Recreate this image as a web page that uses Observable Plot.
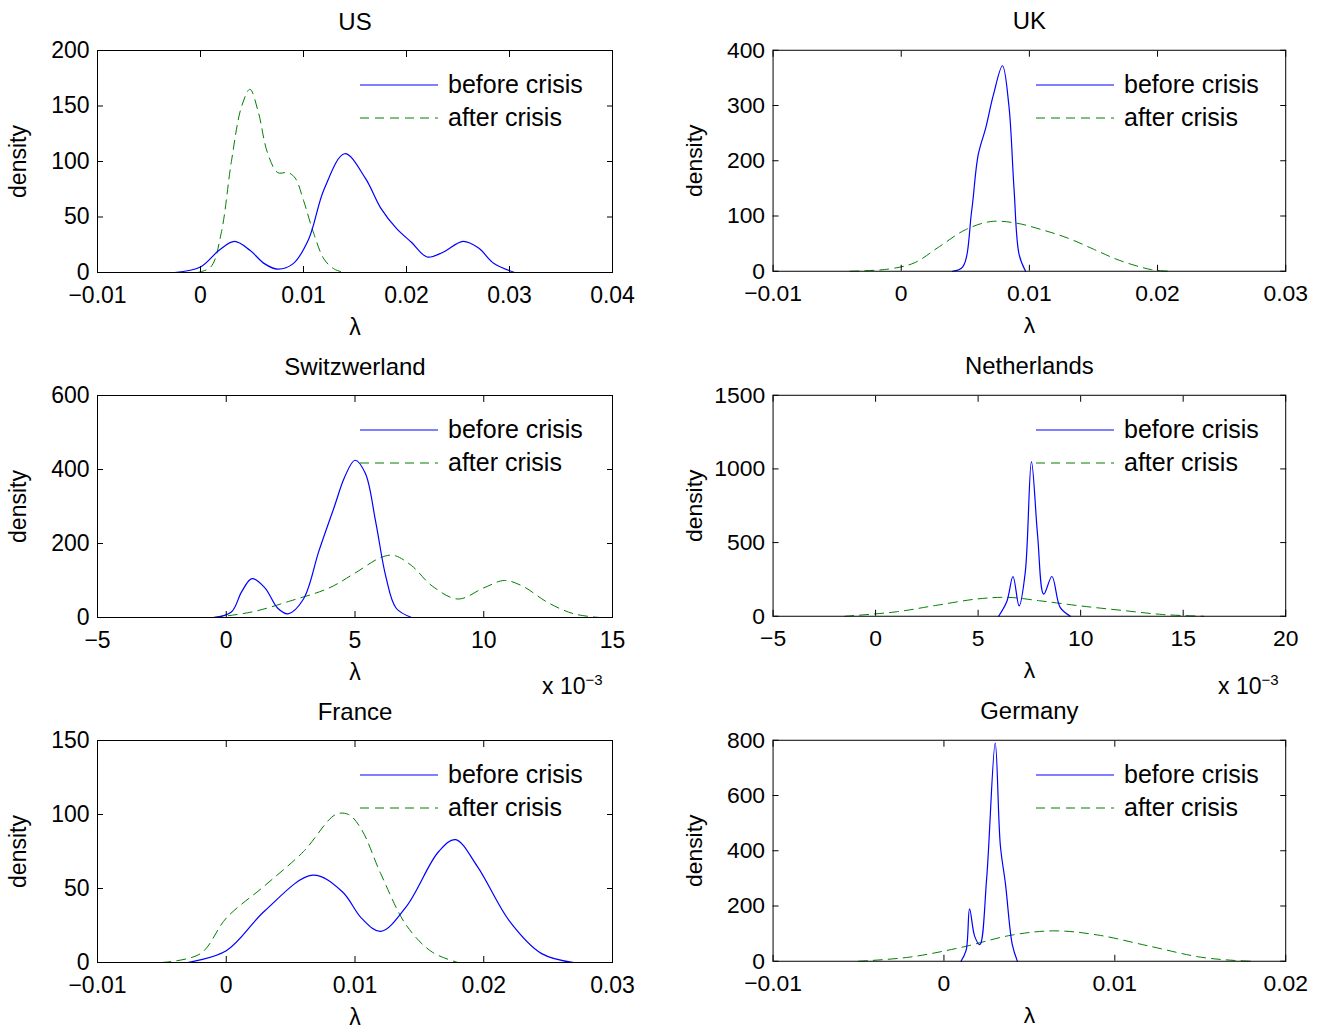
<!DOCTYPE html>
<html><head><meta charset="utf-8">
<script src="https://cdn.jsdelivr.net/npm/d3@7"></script>
<script src="https://cdn.jsdelivr.net/npm/@observablehq/plot@0.6"></script>
<style>
body{margin:0;background:#fff;font-family:"Liberation Sans",Arial,sans-serif;}
#wrap{position:relative;width:1333px;height:1034px;}
.panel{position:absolute;}
.leg{position:absolute;font-size:25px;line-height:33px;}
.leg div{display:flex;align-items:center;}
.exp{position:absolute;font-size:23px;z-index:5;}
</style></head>
<body><div id="wrap"></div>
<script>
// ---- data ----
const usBeforeX = [-0.0025,0,0.0018,0.0033,0.0048,0.0062,0.0075,0.009,0.0105,0.012,0.014,0.016,0.0175,0.019,0.0205,0.022,0.0235,0.0255,0.027,0.0285,0.0305]
const usBeforeY = [0,5,20,28,20,8,3,8,30,75,107,85,58,40,27,14,18,28,22,8,0]
const usAfterX = [-0.0003,0.001,0.002,0.003,0.004,0.0048,0.0056,0.0065,0.0075,0.0085,0.0092,0.01,0.011,0.012,0.013,0.014]
const usAfterY = [0,5,35,100,150,165,145,108,90,90,85,65,35,12,3,0]

const ukBeforeX = [0.004,0.0048,0.0055,0.006,0.0066,0.0072,0.0079,0.0084,0.0088,0.0092,0.0097]
const ukBeforeY = [0,8,110,210,260,320,372,300,150,30,0]
const ukAfterX = [-0.004,-0.001,0.001,0.003,0.005,0.007,0.009,0.011,0.013,0.015,0.017,0.0195,0.021]
const ukAfterY = [0,4,15,45,75,90,87,75,60,40,20,3,0]

const chBeforeX = [-0.5,0.2,0.6,1,1.5,2,2.4,3,3.6,4.2,4.6,5,5.4,5.8,6.2,6.6,7.2]
const chBeforeY = [0,15,70,105,80,25,10,50,180,300,380,425,390,260,110,25,0]
const chAfterX = [-0.5,1,2.5,4,5,6,6.5,7.2,8,9,10,10.8,11.5,12.5,13.5,14.5]
const chAfterY = [0,15,45,80,120,162,168,140,85,50,80,100,85,40,10,0]

const nlBeforeX = [6,6.4,6.7,7,7.3,7.6,7.9,8.2,8.6,9,9.5]
const nlBeforeY = [0,100,270,70,300,1050,550,150,270,60,0]
const nlAfterX = [-1.5,1,3,5,6.5,8,10,12,14,16]
const nlAfterY = [0,30,75,118,128,105,70,40,12,0]

const frBeforeX = [-0.003,0,0.003,0.0067,0.009,0.0105,0.012,0.014,0.0165,0.0178,0.0195,0.022,0.0245,0.027]
const frBeforeY = [0,8,35,59,48,30,21,38,75,83,65,28,6,0]
const frAfterX = [-0.005,-0.002,0,0.003,0.006,0.0085,0.0095,0.0105,0.012,0.014,0.016,0.018]
const frAfterY = [0,6,30,52,75,100,100,90,60,25,7,0]

const deBeforeX = [0.001,0.0013,0.0015,0.0018,0.0021,0.0025,0.003,0.0033,0.0036,0.004,0.0043]
const deBeforeY = [0,40,190,90,60,300,790,420,280,60,0]
const deAfterX = [-0.005,-0.002,0.001,0.004,0.0065,0.009,0.012,0.015,0.017,0.018]
const deAfterY = [0,15,50,95,110,95,55,15,3,0]

const panels = [
  {title:"US", bx:usBeforeX, by:usBeforeY, ax:usAfterX, ay:usAfterY, xd:[-0.01,0.04], xt:[-0.01,0,0.01,0.02,0.03,0.04], yd:[0,200], yt:[0,50,100,150,200]},
  {title:"UK", bx:ukBeforeX, by:ukBeforeY, ax:ukAfterX, ay:ukAfterY, xd:[-0.01,0.03], xt:[-0.01,0,0.01,0.02,0.03], yd:[0,400], yt:[0,100,200,300,400]},
  {title:"Switzwerland", bx:chBeforeX, by:chBeforeY, ax:chAfterX, ay:chAfterY, xd:[-5,15], xt:[-5,0,5,10,15], yd:[0,600], yt:[0,200,400,600], exp:true},
  {title:"Netherlands", bx:nlBeforeX, by:nlBeforeY, ax:nlAfterX, ay:nlAfterY, xd:[-5,20], xt:[-5,0,5,10,15,20], yd:[0,1500], yt:[0,500,1000,1500], exp:true},
  {title:"France", bx:frBeforeX, by:frBeforeY, ax:frAfterX, ay:frAfterY, xd:[-0.01,0.03], xt:[-0.01,0,0.01,0.02,0.03], yd:[0,150], yt:[0,50,100,150]},
  {title:"Germany", bx:deBeforeX, by:deBeforeY, ax:deAfterX, ay:deAfterY, xd:[-0.01,0.02], xt:[-0.01,0,0.01,0.02], yd:[0,800], yt:[0,200,400,600,800]}
]

const fmt = d => d === 0 ? "0" : String(+d.toFixed(4)).replace("-", "\u2212")
const blank = () => ""
const wrap = document.getElementById("wrap")

panels.forEach((p, i) => {
  const col = i % 2, row = Math.floor(i / 2)
  const left = col * 676, top = row * 345
  const before = p.bx.map((x, k) => ({x, y: p.by[k]}))
  const after = p.ax.map((x, k) => ({x, y: p.ay[k]}))
  const chart = Plot.plot({
    width: 660, height: 345,
    marginLeft: 97, marginRight: 48, marginTop: 50, marginBottom: 73,
    style: {fontFamily: "Liberation Sans, Arial, sans-serif", fontSize: "23px", color: "black", background: "transparent"},
    x: {domain: p.xd, ticks: p.xt, tickFormat: fmt},
    y: {domain: p.yd, ticks: p.yt, tickFormat: fmt},
    marks: [
      Plot.line(after, {x: "x", y: "y", curve: "catmull-rom", stroke: "#007f00", strokeWidth: 1, strokeDasharray: "9,6"}),
      Plot.line(before, {x: "x", y: "y", curve: "catmull-rom", stroke: "#0000ff", strokeWidth: 1.2}),
      Plot.frame({stroke: "black"}),
      Plot.axisX({ticks: p.xt, tickFormat: fmt, tickSize: -6, tickPadding: 20, label: "λ", labelAnchor: "center", labelArrow: "none", labelOffset: 62}),
      Plot.axisX({ticks: p.xt, anchor: "top", tickSize: -6, tickFormat: blank, label: null}),
      Plot.axisY({ticks: p.yt, tickFormat: fmt, tickSize: -6, tickPadding: 14, label: "density", labelAnchor: "center", labelArrow: "none", labelOffset: 88}),
      Plot.axisY({ticks: p.yt, anchor: "right", tickSize: -6, tickFormat: blank, label: null}),
      Plot.text([p.title], {text: d => d, frameAnchor: "top", dy: -38, fontSize: 24})
    ]
  })
  const div = document.createElement("div")
  div.className = "panel"
  div.style.left = left + "px"; div.style.top = top + "px"
  div.appendChild(chart)
  wrap.appendChild(div)

  const leg = document.createElement("div")
  leg.className = "leg"
  leg.style.left = (left + 360) + "px"; leg.style.top = (top + 68) + "px"
  leg.innerHTML = `<div><svg width="88" height="10"><line x1="0" x2="78" y1="5" y2="5" stroke="#0000ff" stroke-width="1.2"/></svg>before crisis</div>
  <div><svg width="88" height="10"><line x1="0" x2="78" y1="5" y2="5" stroke="#007f00" stroke-dasharray="9,6"/></svg>after crisis</div>`
  wrap.appendChild(leg)

  if (p.exp) {
    const e = document.createElement("div")
    e.className = "exp"
    e.style.left = (left + 542) + "px"; e.style.top = (top + 326) + "px"
    e.innerHTML = "x 10<sup style='font-size:15px'>\u22123</sup>"
    wrap.appendChild(e)
  }
})
</script></body></html>
